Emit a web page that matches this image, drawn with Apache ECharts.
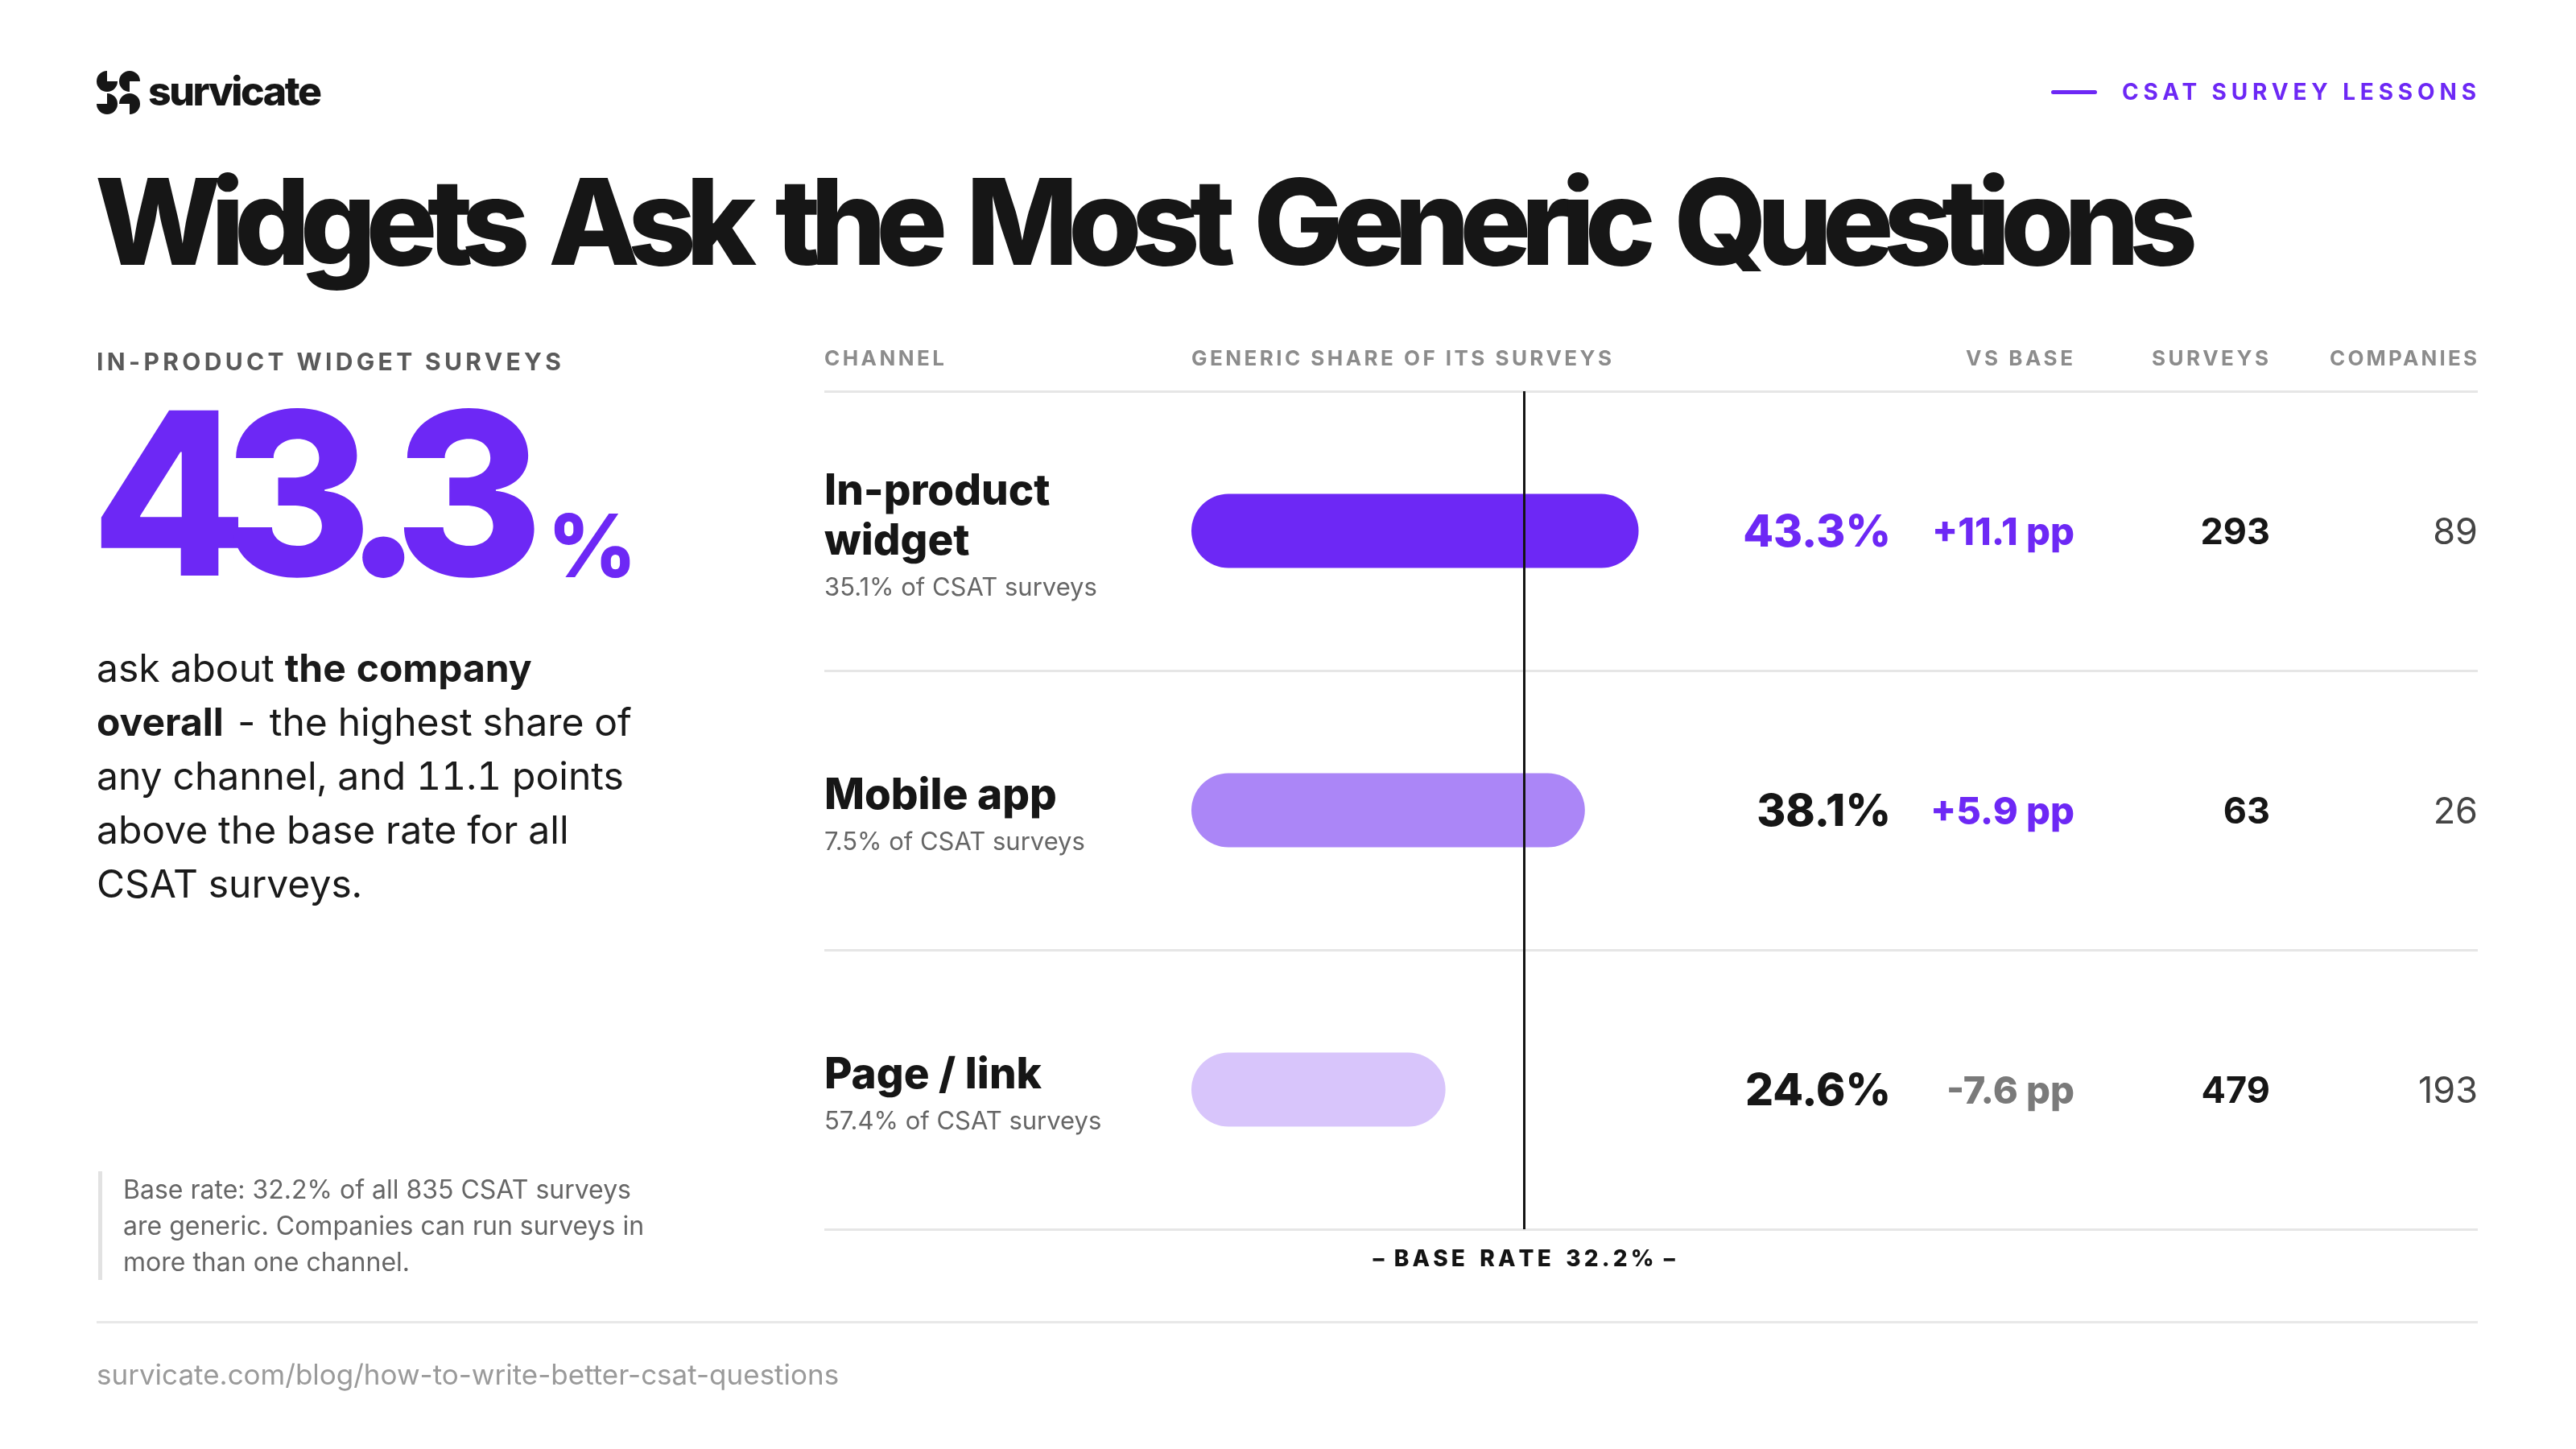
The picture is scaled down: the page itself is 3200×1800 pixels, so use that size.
<!DOCTYPE html>
<html>
<head>
<meta charset="utf-8">
<title>Widgets Ask the Most Generic Questions</title>
<script src="https://cdn.jsdelivr.net/npm/echarts@6/dist/echarts.min.js"></script>
<style>
html, body { margin: 0; padding: 0; background: #fff; }
body { width: 3200px; height: 1800px; position: relative; overflow: hidden; font-family: Inter, "Noto Sans", sans-serif; color: #161616; }
#chart { position: absolute; left: 0; top: 0; width: 3200px; height: 1800px; }
.t { position: absolute; white-space: nowrap; line-height: 1; }
.head { font-size: 26px; font-weight: 700; color: #8c8c8c; top: 432px; }
#para { position: absolute; left: 120px; top: 796px; font-size: 48px; line-height: 67px; color: #1a1a1a; white-space: nowrap; font-variant-numeric: tabular-nums; }
#para b { font-weight: 700; }
#note { position: absolute; left: 122px; top: 1455px; border-left: 5px solid #e2e2e2; padding-left: 26px; font-size: 32px; line-height: 45px; color: #666; white-space: nowrap; }
</style>
</head>
<body>
<div id="chart"></div>

<svg class="t" style="left:120px;top:88px" width="54" height="54" viewBox="0 0 54 54" fill="#161616">
  <path d="M13,13 L13,0 A13,13 0 1 0 26,13 Z"/>
  <path d="M41,13 L54,13 A13,13 0 1 0 41,26 Z"/>
  <path d="M41,41 L41,54 A13,13 0 1 0 28,41 Z"/>
  <path d="M13,41 L0,41 A13,13 0 1 0 13,28 Z"/>
</svg>
<div class="t fit" data-w="216" style="left:184px;top:88px;font-size:50px;font-weight:800;">survicate</div>

<div class="t" style="left:2548px;top:112px;width:57px;height:5px;border-radius:3px;background:#6d28f5;"></div>
<div class="t fit" data-w="440" data-anchor="right" style="right:124px;top:100px;font-size:28px;font-weight:700;color:#6d28f5;">CSAT SURVEY LESSONS</div>

<div class="t fit" data-w="2612" style="left:118px;top:202px;font-size:148px;font-weight:800;word-spacing:16px;">Widgets Ask the Most Generic Questions</div>

<div class="t fit" data-w="577" style="left:120px;top:434px;font-size:30px;font-weight:700;color:#5a5a5a;">IN-PRODUCT WIDGET SURVEYS</div>
<div class="t fit" data-w="562" style="left:113px;top:472px;font-size:282px;font-weight:800;color:#6d28f5;">43.3</div>
<div class="t" style="left:680px;top:624px;font-size:108px;font-weight:800;color:#6d28f5;">%</div>

<div id="para">ask about <b>the company<br>overall</b> - the highest share of<br>any channel, and 11.1 points<br>above the base rate for all<br>CSAT surveys.</div>

<div id="note">Base rate: 32.2% of all 835 CSAT surveys<br>are generic. Companies can run surveys in<br>more than one channel.</div>

<div class="t" style="left:120px;top:1641px;width:2958px;height:3px;background:#e8e8e8;"></div>
<div class="t" style="left:120px;top:1690px;font-size:35px;color:#9a9a9a;">survicate.com/blog/how-to-write-better-csat-questions</div>

<div class="t head fit" data-w="149" style="left:1024px;">CHANNEL</div>
<div class="t head fit" data-w="522" style="left:1480px;">GENERIC SHARE OF ITS SURVEYS</div>
<div class="t head fit" data-w="133" data-anchor="right" style="right:625px;">VS BASE</div>
<div class="t head fit" data-w="145" data-anchor="right" style="right:382px;">SURVEYS</div>
<div class="t head fit" data-w="183" data-anchor="right" style="right:123px;">COMPANIES</div>

<script>
// data
var channels = ['In-product widget', 'Mobile app', 'Page / link'];
var channelShare = [35.1, 7.5, 57.4];     // % of all CSAT surveys
var genericShare = [43.3, 38.1, 24.6];    // generic share of its surveys
var vsBase = [11.1, 5.9, -7.6];           // pp vs base rate
var surveys = [293, 63, 479];
var companies = [89, 26, 193];
var baseRate = 32.2;

var PURPLE = '#6d28f5';
var barColors = ['#6d28f5', '#ab86f7', '#d8c5fb'];

// layout of the table, in page pixels
var TABLE_LEFT = 1024, TABLE_RIGHT = 3078, ROW_TOP = 486, ROW_BOTTOM = 1527;
var BAR_ZERO = 1480, PX_PER_PT = 12.83;
var colRight = [2349, 2577, 2820, 3078];

// stretch letter spacing so the caps labels take the same width as in the picture
function fitSpacing(el) {
	var target = +el.getAttribute('data-w');
	var n = el.textContent.length;
	el.style.letterSpacing = '0px';
	var w0 = el.getBoundingClientRect().width;
	var ls = (target - w0) / (n - 1);
	el.style.letterSpacing = ls + 'px';
	if (el.getAttribute('data-anchor') === 'right') {
		el.style.marginRight = (-ls) + 'px';
	}
}

// canvas text has no letter spacing, so thin spaces stand in for it
function spaced(str) {
	return str.split(' ').map(function (w) {
		return w.split('').join('\u2009');
	}).join('   ');
}

function valueAxis(col, formatter) {
	return {
		type: 'category',
		data: channels,
		inverse: true,
		position: 'right',
		axisLine: {show: false},
		axisTick: {show: false},
		splitLine: {show: false},
		axisLabel: {
			inside: true,
			margin: TABLE_RIGHT - colRight[col],
			align: 'right',
			padding: [6, 0, 0, 0],
			formatter: formatter,
			rich: {
				pct: {fontSize: 55, fontWeight: 800, color: '#161616'},
				pctHi: {fontSize: 55, fontWeight: 800, color: PURPLE},
				up: {fontSize: 47, fontWeight: 800, color: PURPLE},
				down: {fontSize: 47, fontWeight: 800, color: '#7a7a7a'},
				n: {fontSize: 45, fontWeight: 700, color: '#161616'},
				c: {fontSize: 45, fontWeight: 400, color: '#444'}
			}
		}
	};
}

function drawChart() {
	var chart = echarts.init(document.getElementById('chart'));
	var option = {
		animation: false,
		textStyle: {fontFamily: 'Inter'},
		grid: {
			left: TABLE_LEFT,
			right: 3200 - TABLE_RIGHT,
			top: ROW_TOP,
			bottom: 1800 - ROW_BOTTOM
		},
		xAxis: {
			type: 'value',
			min: -(BAR_ZERO - TABLE_LEFT) / PX_PER_PT,
			max: (TABLE_RIGHT - BAR_ZERO) / PX_PER_PT,
			axisLine: {show: false},
			axisTick: {show: false},
			axisLabel: {show: false},
			splitLine: {show: false}
		},
		yAxis: [
			{
				type: 'category',
				data: channels,
				inverse: true,
				axisLine: {show: false},
				axisTick: {show: false},
				splitLine: {show: true, lineStyle: {color: '#e6e6e6', width: 3}},
				axisLabel: {
					inside: true,
					margin: 0,
					align: 'left',
					padding: [18, 0, 0, 0],
					formatter: function (name, i) {
						var lines = name.length > 12 ? name.split(' ') : [name];
						var s = lines.map(function (l) { return '{name|' + l + '}'; }).join('\n');
						return s + '\n{sub|' + channelShare[i] + '% of CSAT surveys}';
					},
					rich: {
						name: {fontSize: 53, fontWeight: 800, color: '#161616', lineHeight: 62},
						sub: {fontSize: 31, color: '#666', lineHeight: 52}
					}
				}
			},
			valueAxis(0, function (v, i) {
				return '{' + (i === 0 ? 'pctHi' : 'pct') + '|' + genericShare[i].toFixed(1) + '%}';
			}),
			valueAxis(1, function (v, i) {
				var d = vsBase[i];
				return '{' + (d > 0 ? 'up' : 'down') + '|' + (d > 0 ? '+' : '') + d.toFixed(1) + ' pp}';
			}),
			valueAxis(2, function (v, i) {
				return '{n|' + surveys[i] + '}';
			}),
			valueAxis(3, function (v, i) {
				return '{c|' + companies[i] + '}';
			})
		],
		series: [
			{
				name: 'Generic share',
				type: 'bar',
				silent: true,
				barWidth: 92,
				data: genericShare.map(function (v, i) {
					return {value: v, itemStyle: {color: barColors[i]}};
				}),
				itemStyle: {borderRadius: 46},
				markLine: {
					silent: true,
					symbol: ['none', 'none'],
					lineStyle: {color: '#141414', width: 3, type: 'solid'},
					label: {
						show: true,
						position: 'end',
						distance: 24,
						formatter: '–  ' + spaced('BASE RATE ' + baseRate + '%') + '  –',
						fontSize: 28,
						fontWeight: 800,
						color: '#141414'
					},
					data: [{xAxis: baseRate}]
				}
			}
		]
	};
	chart.setOption(option);
}

document.fonts.ready.then(function () {
	var els = document.querySelectorAll('.fit');
	for (var i = 0; i < els.length; i++) fitSpacing(els[i]);
	drawChart();
});
</script>
</body>
</html>
